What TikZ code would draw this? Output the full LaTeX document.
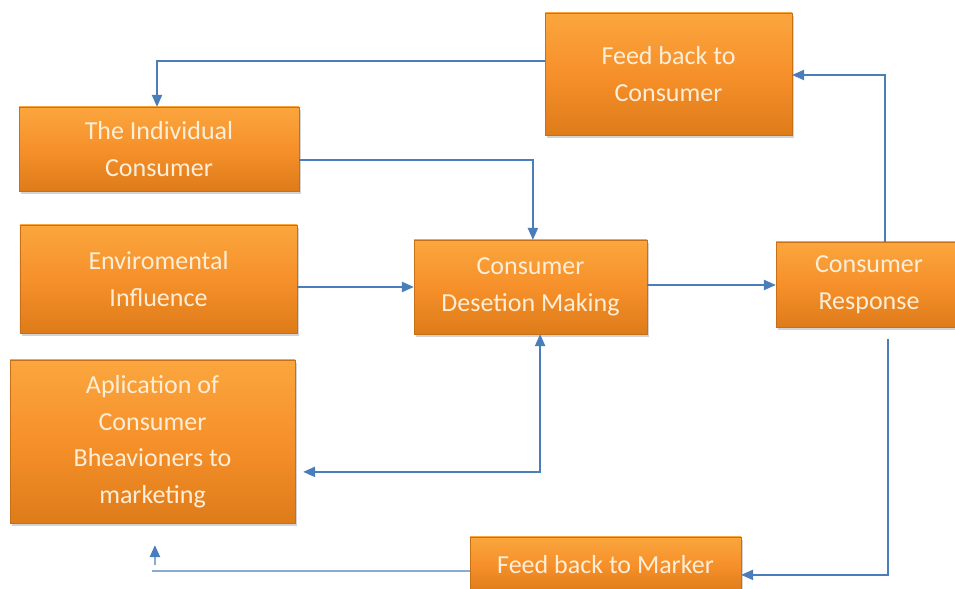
\documentclass[tikz,border=0pt]{standalone}
\usepackage{fontspec}
\setmainfont{Carlito}
\usetikzlibrary{arrows.meta,shadows}
\definecolor{boxtop}{RGB}{251,166,62}
\definecolor{boxmid}{RGB}{246,144,42}
\definecolor{boxbot}{RGB}{222,124,26}
\definecolor{boxtext}{RGB}{254,238,216}
\definecolor{flow}{RGB}{74,126,187}
\tikzset{
	box/.style={rectangle, draw=boxbot!90!black, line width=0.3pt, top color=boxtop, bottom color=boxbot, middle color=boxmid,
		drop shadow={shadow xshift=0.06cm, shadow yshift=-0.08cm, opacity=0.35},
		text=boxtext, align=center, inner sep=0pt, font=\fontsize{18.5}{26}\selectfont},
	flowarrow/.style={draw=flow, line width=0.9pt, -{Triangle[length=0.3cm,width=0.26cm]}},
	flowboth/.style={draw=flow, line width=0.9pt, {Triangle[length=0.3cm,width=0.26cm]}-{Triangle[length=0.3cm,width=0.26cm]}},
	flowline/.style={draw=flow, line width=0.9pt}
}

\begin{document}
\begin{tikzpicture}
		%%%%% START %%%%%
		\useasboundingbox (0, 0) rectangle (23.875, 14.725);
		
		\node[box, minimum width=6.175cm, minimum height=3.05cm] (fbc) at (16.7125, 12.875) {Feed back to\\Consumer};
		\node[box, minimum width=7.0cm, minimum height=2.1cm] (ind) at (3.975, 11.0) {The Individual\\Consumer};
		\node[box, minimum width=6.925cm, minimum height=2.7cm] (env) at (3.9625, 7.75) {Enviromental\\Influence};
		\node[box, minimum width=5.825cm, minimum height=2.35cm] (dec) at (13.2625, 7.55) {Consumer\\Desetion Making};
		\node[box, minimum width=4.65cm, minimum height=2.125cm] (resp) at (21.725, 7.6125) {Consumer\\Response};
		\node[box, minimum width=7.125cm, minimum height=4.075cm] (app) at (3.8125, 3.6875) {Aplication of\\Consumer\\Bheavioners to\\marketing};
		\node[box, minimum width=6.775cm, minimum height=1.375cm] (fbm) at (15.1375, 0.6125) {Feed back to Marker};
		
		\draw[flowarrow] ([yshift=0.325cm]fbc.west) -| ([xshift=-0.05cm]ind.north);
		\draw[flowarrow] ([yshift=-0.275cm]ind.east) -| ([xshift=0.06cm]dec.north);
		\draw[flowarrow] (dec.west -| env.east) -- (dec.west);
		\draw[flowarrow] ([yshift=0.05cm]dec.east) -- ([yshift=0.05cm]dec.east -| resp.west);
		\draw[flowarrow] ([xshift=0.4cm]resp.north) |- ([yshift=-0.025cm]fbc.east);
		\draw[flowarrow] ([xshift=0.475cm, yshift=-0.3cm]resp.south) |- ([yshift=-0.26cm]fbm.east);
		\draw[flowboth] ([xshift=0.24cm]dec.south) |- ([xshift=0.2cm, yshift=-0.76cm]app.east);
		
		\coordinate (mk) at (3.8, 0.45);
		\coordinate (up) at (3.875, 0.6);
		\draw[flowline] ([yshift=-0.16cm]fbm.west) -- (mk);
		\draw[flowarrow] (up) -- ([xshift=0.06cm, yshift=-0.55cm]app.south);
		
		%%%%% END %%%%%
	\end{tikzpicture}
\end{document}
